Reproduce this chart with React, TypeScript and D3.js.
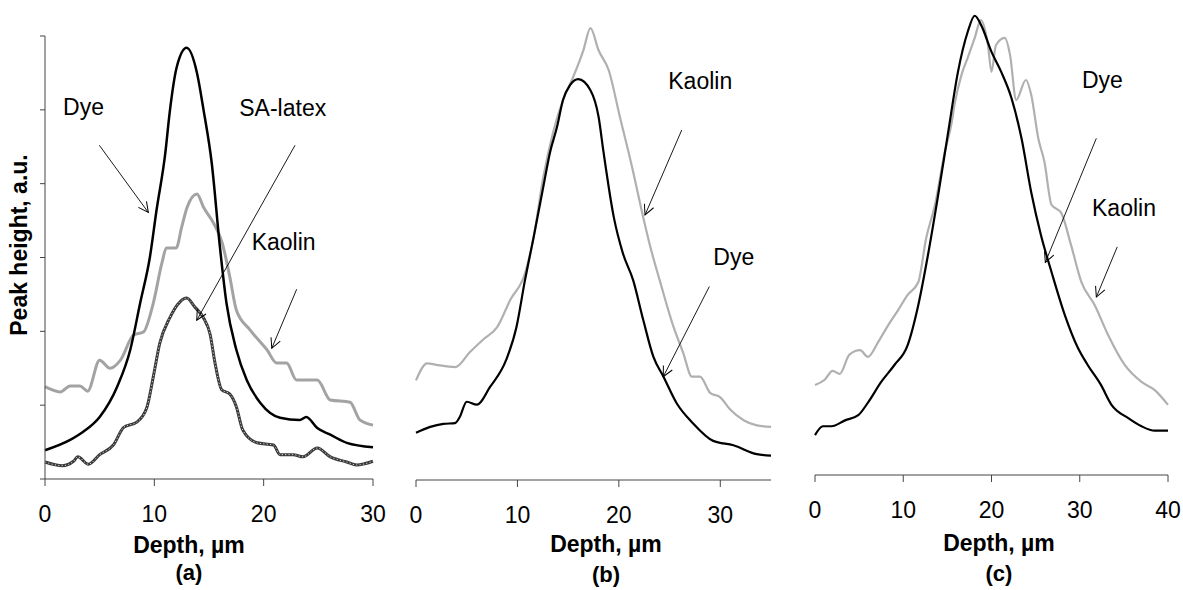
import React from "react";
import * as d3 from "d3";

// ---------- Data (depth in µm, peak height in a.u.) ----------
const dyeA: [number, number][] = [
  [0, 0.39], [2.3, 0.53], [3.5, 0.64], [5.0, 0.84], [6.6, 1.25], [7.8, 1.75], [8.7, 2.38],
  [9.6, 3.01], [10.2, 3.64], [11.0, 4.41], [11.4, 4.96], [12.05, 5.58], [12.96, 5.84],
  [13.9, 5.5], [14.5, 5.0], [15.25, 4.28], [16.0, 3.14], [16.6, 2.38], [17.5, 1.75],
  [18.45, 1.34], [19.7, 1.03], [21.5, 0.83], [23.3, 0.8], [23.9, 0.84], [24.9, 0.69],
  [26.1, 0.6], [27.6, 0.49], [30, 0.43],
];
const kaolinA: [number, number][] = [
  [0, 1.25], [1.4, 1.18], [2.3, 1.26], [3.2, 1.26], [3.9, 1.19], [5.0, 1.61], [5.95, 1.5],
  [6.9, 1.61], [8.1, 1.95], [9.0, 1.99], [9.9, 2.38], [10.7, 2.93], [11.1, 3.13], [12.0, 3.13],
  [12.5, 3.41], [13.0, 3.68], [13.9, 3.86], [14.5, 3.68], [15.4, 3.47], [16.2, 3.2],
  [16.9, 2.74], [17.5, 2.29], [18.75, 2.02], [20.3, 1.75], [21.2, 1.57], [22.1, 1.57],
  [23.0, 1.34], [24.9, 1.34], [26.1, 1.07], [27.9, 1.04], [28.8, 0.8], [30, 0.73],
];
const latexA: [number, number][] = [
  [0, 0.23], [1.6, 0.18], [2.6, 0.24], [3.0, 0.3], [3.96, 0.2], [5.0, 0.33], [6.25, 0.46],
  [7.2, 0.7], [8.4, 0.77], [9.3, 0.96], [9.9, 1.38], [10.5, 1.84], [11.4, 2.18], [12.35, 2.4],
  [12.96, 2.45], [13.7, 2.33], [14.5, 2.18], [15.1, 1.96], [15.55, 1.57], [16.16, 1.21],
  [16.9, 1.15], [17.5, 0.98], [18.1, 0.66], [19.4, 0.49], [20.9, 0.46], [21.5, 0.33],
  [22.7, 0.33], [23.6, 0.3], [24.9, 0.42], [26.1, 0.3], [27.6, 0.23], [28.5, 0.19], [30, 0.24],
];
const dyeB: [number, number][] = [
  [0, 0.64], [1.4, 0.72], [2.7, 0.76], [3.85, 0.77], [4.3, 0.85], [5.0, 1.06], [6.0, 1.02],
  [7.3, 1.26], [8.9, 1.63], [9.9, 2.07], [10.75, 2.71], [11.6, 3.29], [12.55, 3.97],
  [13.2, 4.43], [13.9, 4.78], [14.5, 5.15], [15.2, 5.35], [16.0, 5.43], [17.2, 5.28],
  [18.0, 4.92], [18.5, 4.43], [19.5, 3.56], [20.4, 3.07], [21.4, 2.71], [22.4, 2.17],
  [23.4, 1.67], [24.4, 1.4], [25.7, 1.04], [27.3, 0.77], [29.3, 0.53], [31.3, 0.47],
  [33.6, 0.35], [35, 0.33],
];
const kaolinB: [number, number][] = [
  [0, 1.35], [1.1, 1.58], [2.0, 1.56], [3.9, 1.53], [5.3, 1.73], [6.6, 1.9], [8.0, 2.07],
  [9.3, 2.44], [10.75, 2.8], [11.6, 3.29], [12.55, 4.1], [13.5, 4.7], [14.5, 5.15],
  [15.5, 5.46], [16.5, 5.82], [17.2, 6.12], [18.0, 5.82], [19.0, 5.55], [20.1, 4.92],
  [21.3, 4.24], [22.4, 3.56], [23.1, 3.16], [24.1, 2.67], [25.4, 2.07], [26.35, 1.72],
  [27.2, 1.4], [28.0, 1.4], [29.0, 1.18], [30.0, 1.12], [31.0, 0.95], [32.3, 0.81],
  [33.6, 0.74], [35, 0.72],
];
const dyeC: [number, number][] = [
  [0, 0.54], [0.9, 0.66], [1.85, 0.66], [3.4, 0.74], [4.9, 0.81], [6.0, 0.98], [7.5, 1.26],
  [9.0, 1.49], [10.5, 1.76], [11.7, 2.3], [12.8, 2.98], [13.9, 3.75], [15.1, 4.65],
  [16.2, 5.46], [17.3, 6.0], [18.1, 6.22], [18.8, 6.1], [20.0, 5.73], [21.1, 5.46],
  [22.25, 5.11], [23.4, 4.56], [24.5, 3.83], [25.6, 3.25], [26.8, 2.75], [28.3, 2.17],
  [29.8, 1.72], [30.9, 1.49], [32.4, 1.22], [33.6, 0.95], [35.5, 0.77], [37.0, 0.66],
  [38.5, 0.6], [40, 0.6],
];
const kaolinC: [number, number][] = [
  [0, 1.22], [1.1, 1.29], [2.0, 1.41], [2.8, 1.37], [3.9, 1.63], [5.1, 1.69], [6.0, 1.6],
  [7.2, 1.81], [8.3, 2.03], [9.4, 2.23], [10.5, 2.44], [11.7, 2.61], [12.6, 3.21],
  [13.6, 3.66], [14.7, 4.37], [15.5, 4.78], [15.8, 5.01], [16.6, 5.42], [17.3, 5.65],
  [18.1, 5.92], [18.8, 6.16], [19.6, 5.82], [20.0, 5.46], [20.5, 5.82], [21.5, 5.92],
  [22.1, 5.69], [22.8, 5.08], [23.9, 5.35], [24.5, 5.15], [25.3, 4.56], [26.0, 4.24],
  [26.8, 3.66], [27.9, 3.55], [29.0, 3.12], [30.2, 2.61], [31.7, 2.3], [33.2, 1.9],
  [35.1, 1.49], [37.0, 1.26], [38.5, 1.15], [40, 0.95],
];

const xTicksA = [0, 10, 20, 30];
const xTicksB = [0, 10, 20, 30];
const xTicksC = [0, 10, 20, 30, 40];
const yTicksA = [0, 1, 2, 3, 4, 5, 6];

const xTitle = "Depth, \u00b5m";
const yTitle = "Peak height, a.u.";

// annotations: label position and arrow (from -> to), in data units
type Ann = { text: string; lx: number; ly: number; fx: number; fy: number; tx: number; ty: number };
const annA: Ann[] = [
  { text: "Dye", lx: 1.65, ly: 4.93, fx: 4.97, fy: 4.52, tx: 9.45, ty: 3.61 },
  { text: "SA-latex", lx: 17.77, ly: 4.92, fx: 22.87, fy: 4.52, tx: 13.88, ty: 2.15 },
  { text: "Kaolin", lx: 18.9, ly: 3.1, fx: 23.02, fy: 2.57, tx: 20.74, ty: 1.77 },
];
const annB: Ann[] = [
  { text: "Kaolin", lx: 24.87, ly: 5.29, fx: 26.2, fy: 4.74, tx: 22.58, ty: 3.59 },
  { text: "Dye", lx: 29.31, ly: 2.91, fx: 28.92, fy: 2.62, tx: 24.38, ty: 1.4 },
];
const annC: Ann[] = [
  { text: "Dye", lx: 30.25, ly: 5.24, fx: 31.88, fy: 4.56, tx: 26.1, ty: 2.88 },
  { text: "Kaolin", lx: 31.39, ly: 3.51, fx: 34.25, fy: 3.09, tx: 31.88, ty: 2.41 },
];

const FONT = "'Liberation Sans', Arial, Helvetica, sans-serif";

type Series = { data: [number, number][]; color: string; width: number; dotted?: boolean };
type PanelCfg = {
  id: string;
  x0: number; x1: number; yBase: number; yTop: number; xMax: number;
  xTicks: number[]; endTick: boolean; yAxis: boolean;
  series: Series[]; ann: Ann[];
  titleX: number; titleY: number; subY: number; sub: string;
};

const panels: PanelCfg[] = [
  {
    id: "a", x0: 45, x1: 373, yBase: 479, yTop: 36, xMax: 30, xTicks: xTicksA, endTick: true, yAxis: true,
    series: [
      { data: kaolinA, color: "#a3a3a3", width: 3 },
      { data: latexA, color: "#3a3a3a", width: 3, dotted: true },
      { data: dyeA, color: "#000", width: 2.5 },
    ],
    ann: annA, titleX: 189, titleY: 553, subY: 580, sub: "(a)",
  },
  {
    id: "b", x0: 416, x1: 771, yBase: 480, yTop: 37, xMax: 35, xTicks: xTicksB, endTick: false, yAxis: false,
    series: [
      { data: kaolinB, color: "#b0b0b0", width: 2.2 },
      { data: dyeB, color: "#000", width: 2.2 },
    ],
    ann: annB, titleX: 606, titleY: 552, subY: 582, sub: "(b)",
  },
  {
    id: "c", x0: 815, x1: 1168, yBase: 475, yTop: 32, xMax: 40, xTicks: xTicksC, endTick: true, yAxis: false,
    series: [
      { data: kaolinC, color: "#b0b0b0", width: 2.2 },
      { data: dyeC, color: "#000", width: 2.2 },
    ],
    ann: annC, titleX: 999, titleY: 551, subY: 581, sub: "(c)",
  },
];

function Panel({ p }: { p: PanelCfg }) {
  const xs = d3.scaleLinear().domain([0, p.xMax]).range([p.x0, p.x1]);
  const ys = d3.scaleLinear().domain([0, 6]).range([p.yBase, p.yTop]);
  const line = d3
    .line<[number, number]>()
    .x((d) => xs(d[0]))
    .y((d) => ys(d[1]))
    .curve(d3.curveMonotoneX);
  const axisColor = "#444";
  return (
    <g>
      {p.series.map((s, i) => (
        <g key={i}>
          <path d={line(s.data) || ""} fill="none" stroke={s.color} strokeWidth={s.width} strokeLinejoin="round" />
          {s.dotted && (
            <path d={line(s.data) || ""} fill="none" stroke="#d8d8d8" strokeWidth={1} strokeDasharray="1.2 2.2" />
          )}
        </g>
      ))}
      {/* x axis */}
      <line x1={xs(0)} x2={xs(p.xMax)} y1={p.yBase} y2={p.yBase} stroke={axisColor} strokeWidth={1} />
      {p.xTicks.map((t) => (
        <g key={t}>
          <line x1={xs(t)} x2={xs(t)} y1={p.yBase} y2={p.yBase + 7} stroke={axisColor} strokeWidth={1} />
          <text x={xs(t)} y={p.yBase + 43} textAnchor="middle" fontFamily={FONT} fontSize={23} fill="#000">
            {t}
          </text>
        </g>
      ))}
      {p.endTick && !p.xTicks.includes(p.xMax) && (
        <line x1={xs(p.xMax)} x2={xs(p.xMax)} y1={p.yBase} y2={p.yBase + 7} stroke={axisColor} />
      )}
      {/* y axis */}
      {p.yAxis && (
        <g>
          <line x1={p.x0} x2={p.x0} y1={ys(0)} y2={ys(6)} stroke={axisColor} strokeWidth={1} />
          {yTicksA.map((t) => (
            <line key={t} x1={p.x0 - 5} x2={p.x0} y1={ys(t)} y2={ys(t)} stroke={axisColor} strokeWidth={1} />
          ))}
        </g>
      )}
      <text x={p.titleX} y={p.titleY} textAnchor="middle" fontFamily={FONT} fontSize={23} fontWeight="bold">
        {xTitle}
      </text>
      <text x={p.titleX} y={p.subY} textAnchor="middle" fontFamily={FONT} fontSize={22} fontWeight="bold">
        {p.sub}
      </text>
      {p.ann.map((a, i) => (
        <g key={i}>
          <text x={xs(a.lx)} y={ys(a.ly)} fontFamily={FONT} fontSize={23} fill="#000">
            {a.text}
          </text>
          <line
            x1={xs(a.fx)} y1={ys(a.fy)} x2={xs(a.tx)} y2={ys(a.ty)}
            stroke="#000" strokeWidth={0.9} markerEnd="url(#openArrow)"
          />
        </g>
      ))}
    </g>
  );
}

export default function App() {
  return (
    <svg
      width={1183}
      height={590}
      viewBox="0 0 1183 590"
      style={{ position: "absolute", left: 0, top: 0, background: "#fff", display: "block" }}
    >
      <defs>
        <marker
          id="openArrow" viewBox="0 0 12 12" refX={11} refY={6} markerWidth={12} markerHeight={12}
          markerUnits="userSpaceOnUse" orient="auto"
        >
          <path d="M1,1 L11,6 L1,11" fill="none" stroke="#000" strokeWidth={1} />
        </marker>
      </defs>
      <rect x={0} y={0} width={1183} height={590} fill="#fff" />
      {panels.map((p) => (
        <Panel key={p.id} p={p} />
      ))}
      <text
        transform="translate(27,245) rotate(-90)"
        textAnchor="middle" fontFamily={FONT} fontSize={23} fontWeight="bold"
      >
        {yTitle}
      </text>
    </svg>
  );
}
